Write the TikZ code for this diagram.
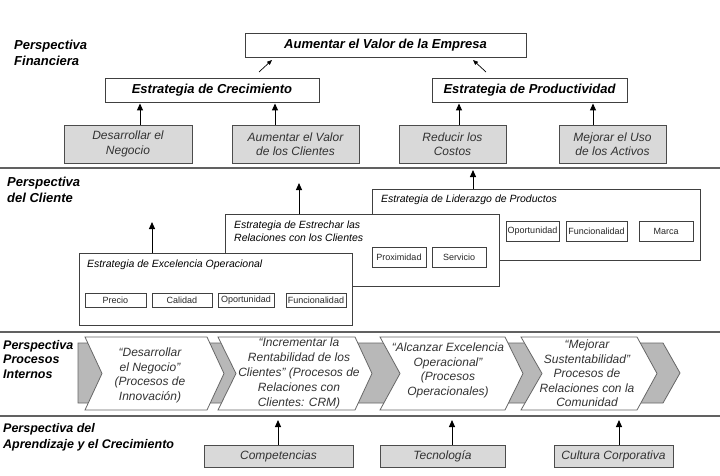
\documentclass[tikz,border=0pt]{standalone}
\usepackage{fontspec}
\setmainfont{Liberation Sans}
\usetikzlibrary{arrows.meta}
\newcommand\myfs[2]{\fontsize{#1pt}{#2pt}\selectfont}
\begin{document}
\begin{tikzpicture}[x=1pt,y=-1pt,
  sep/.style={line width=1.6pt, draw=black!62},
  wbox/.style={draw=black!75, fill=white, line width=0.9pt, inner sep=0pt},
  gbox/.style={draw=black!70, fill=black!15, line width=0.9pt, inner sep=0pt, text=black!80, font=\myfs{12}{14.5}\itshape, align=center},
  fintitle/.style={font=\myfs{13}{15}\bfseries\itshape},
  persp/.style={font=\myfs{13}{15.5}\bfseries\itshape, align=left, anchor=west, inner sep=0pt},
  sbox/.style={draw=black!75, fill=white, line width=0.8pt, inner sep=0pt, font=\myfs{9}{10}, text=black!85},
  stitle/.style={font=\myfs{10.5}{13}\itshape, anchor=west, inner sep=0pt, align=left},
  arr/.style={-{Triangle[length=7pt,width=6pt]}, line width=1pt},
  darr/.style={-{Triangle[length=5pt,width=4pt]}, line width=0.7pt},
  chev/.style={draw=black!60, fill=white, line width=0.8pt},
  band/.style={draw=black!60, fill=black!28, line width=0.8pt},
  ptext/.style={font=\myfs{12}{14.5}\itshape, align=center, text=black!80, inner sep=0pt}
]
\useasboundingbox (0,0) rectangle (720,476);

% separators
\draw[sep] (0,168) -- (720,168);
\draw[sep] (0,332) -- (720,332);
\draw[sep] (0,416) -- (720,416);

% perspective labels
\node[persp] (pf) at (14,53) {Perspectiva\\Financiera};
\node[persp] (pc) at (7,190) {Perspectiva\\del Cliente};
\node[persp, font=\myfs{12.5}{14.5}\bfseries\itshape] (pp) at (3,359.5) {Perspectiva\\Procesos\\Internos};
\node[persp, font=\myfs{12.5}{15.5}\bfseries\itshape] (pa) at (3,437.5) {Perspectiva del\\Aprendizaje y el Crecimiento};

% financial
\node[wbox, fintitle, minimum width=281pt, minimum height=24pt] (top) at (385.5,45) {Aumentar el Valor de la Empresa};
\node[wbox, fintitle, minimum width=214pt, minimum height=24pt] (crec) at (212,90) {Estrategia de Crecimiento};
\node[wbox, fintitle, minimum width=195pt, minimum height=24pt] (prod) at (529.5,90) {Estrategia de Productividad};

\node[gbox, minimum width=128pt, minimum height=38pt] (g1) at (128,144) {Desarrollar el\\Negocio};
\node[gbox, minimum width=127pt, minimum height=38pt] (g2) at (295.5,144) {Aumentar el Valor\\de los Clientes};
\node[gbox, minimum width=107pt, minimum height=38pt] (g3) at (452.5,144) {Reducir los\\Costos};
\node[gbox, minimum width=107pt, minimum height=38pt] (g4) at (612.5,144) {Mejorar el Uso\\de los Activos};

\draw[arr] ([xshift=12pt]g1.north) -- ([xshift=12pt,yshift=-1pt]g1.north |- crec.south);
\draw[arr] ([xshift=-20.5pt]g2.north) -- ([xshift=-20.5pt,yshift=-1pt]g2.north |- crec.south);
\draw[arr] ([xshift=6.5pt]g3.north) -- ([xshift=6.5pt,yshift=-1pt]g3.north |- prod.south);
\draw[arr] ([xshift=-19.5pt]g4.north) -- ([xshift=-19.5pt,yshift=-1pt]g4.north |- prod.south);

\coordinate (d1s) at (259,72); \coordinate (d1e) at (272,60);
\coordinate (d2s) at (486,72); \coordinate (d2e) at (473,60);
\draw[darr] (d1s) -- (d1e);
\draw[darr] (d2s) -- (d2e);

% client
\node[wbox, minimum width=328pt, minimum height=71pt] (lid) at (536,224.5) {};
\node[stitle] (lidt) at (381,200) {Estrategia de Liderazgo de Productos};
\node[sbox, minimum width=53pt, minimum height=20pt] (lop) at (532.5,231) {Oportunidad};
\node[sbox, minimum width=61pt, minimum height=20pt] (lfu) at (596.5,231) {Funcionalidad};
\node[sbox, minimum width=54pt, minimum height=20pt] (lma) at (666,231) {Marca};

\node[wbox, minimum width=274pt, minimum height=72pt] (est) at (362,250) {};
\node[stitle] (estt) at (234,231.5) {Estrategia de Estrechar las\\Relaciones con los Clientes};
\node[sbox, minimum width=54pt, minimum height=20pt] (prox) at (399,257) {Proximidad};
\node[sbox, minimum width=54pt, minimum height=20pt] (serv) at (459,257) {Servicio};

\node[wbox, minimum width=273pt, minimum height=72pt] (exc) at (215.5,289) {};
\node[stitle] (exct) at (87,265) {Estrategia de Excelencia Operacional};
\node[sbox, minimum width=61pt, minimum height=14pt] (epr) at (115.5,300) {Precio};
\node[sbox, minimum width=60pt, minimum height=14pt] (eca) at (182,300) {Calidad};
\node[sbox, minimum width=56pt, minimum height=14pt] (eop) at (246,300) {Oportunidad};
\node[sbox, minimum width=60pt, minimum height=14pt] (efu) at (316,300) {Funcionalidad};

\coordinate (exce) at (152,222);
\coordinate (este) at (299,183);
\coordinate (lide) at (473,170);
\draw[arr] (exc.north -| exce) -- (exce);
\draw[arr] (est.north -| este) -- (este);
\draw[arr] (lid.north -| lide) -- (lide);

% internal processes
\draw[band] (78,343) -- (663,343) -- (680,373) -- (663,403) -- (78,403) -- cycle;
\draw[chev] (85,337) -- (207,337) -- (224,373.5) -- (207,410) -- (85,410) -- (102,373.5) -- cycle;
\draw[chev] (218,337) -- (355,337) -- (372,373.5) -- (355,410) -- (218,410) -- (236,373.5) -- cycle;
\draw[chev] (380,337) -- (505,337) -- (523,373.5) -- (505,410) -- (380,410) -- (400,373.5) -- cycle;
\draw[chev] (521,337) -- (637,337) -- (657,373.5) -- (637,410) -- (521,410) -- (542,373.5) -- cycle;

\node[ptext] (t1) at (150,375.5) {“Desarrollar\\el Negocio”\\(Procesos de\\Innovación)};
\node[ptext, font=\myfs{12}{15}\itshape] (t2) at (299,373) {“Incrementar la\\Rentabilidad de los\\Clientes” (Procesos de\\Relaciones con\\Clientes: CRM)};
\node[ptext] (t3) at (448,370.5) {“Alcanzar Excelencia\\Operacional”\\(Procesos\\Operacionales)};
\node[ptext] (t4) at (587,373.5) {“Mejorar\\Sustentabilidad”\\Procesos de\\Relaciones con la\\Comunidad};

% learning
\node[gbox, minimum width=149pt, minimum height=22pt] (comp) at (278.5,456) {Competencias};
\node[gbox, minimum width=125pt, minimum height=22pt] (tec) at (442.5,456) {Tecnología};
\node[gbox, minimum width=119pt, minimum height=22pt] (cult) at (613.5,456) {Cultura Corporativa};

\coordinate (ce) at (278,420);
\coordinate (te) at (452,420);
\coordinate (cue) at (619,420);
\draw[arr] (comp.north -| ce) -- (ce);
\draw[arr] (tec.north -| te) -- (te);
\draw[arr] (cult.north -| cue) -- (cue);
\end{tikzpicture}
\end{document}
